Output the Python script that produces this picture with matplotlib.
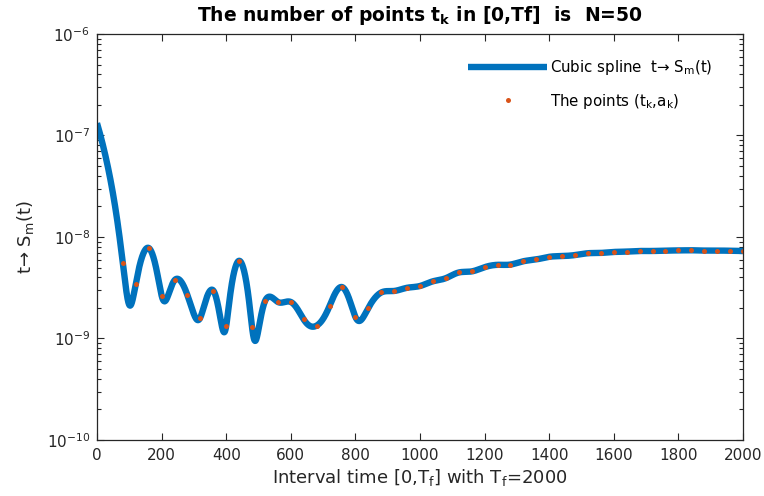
import numpy as np
import matplotlib
matplotlib.use("Agg")
import matplotlib.pyplot as plt

# ---- data ----
t_k = np.arange(0, 2001, 40)   # 51 knots, step 40 (N = 50 intervals)
a_k = np.array([
    132.4, 39.0, 5.51, 3.45, 7.80, 2.65, 3.75, 2.67, 1.61, 2.97,
    1.33, 5.83, 1.29, 2.33, 2.29, 2.29, 1.54, 1.34, 2.09, 3.20,
    1.63, 2.00, 2.84, 2.94, 3.16, 3.29, 3.66, 3.93, 4.47, 4.58,
    5.04, 5.32, 5.35, 5.77, 6.01, 6.38, 6.49, 6.64, 6.92, 6.97,
    7.12, 7.18, 7.28, 7.28, 7.35, 7.37, 7.40, 7.35, 7.35, 7.32,
    7.28]) * 1e-9
first_marked = 2   # the reference shows markers from t = 80 onward

title_txt = r"The number of points t$_{\mathbf{k}}$ in [0,Tf]  is  N=50"
xlabel_txt = r"Interval time [0,T$_{\mathrm{f}}$] with T$_{\mathrm{f}}$=2000"
ylabel_txt = r"t→ S$_{\mathrm{m}}$(t)"
legend_curve = r"Cubic spline  t→ S$_{\mathrm{m}}$(t)"
legend_pts = r"The points (t$_{\mathrm{k}}$,a$_{\mathrm{k}}$)"
x_ticks = [0, 200, 400, 600, 800, 1000, 1200, 1400, 1600, 1800, 2000]


def not_a_knot_spline(x, y, xq):
    x = np.asarray(x, float)
    y = np.asarray(y, float)
    n = len(x)
    h = np.diff(x)
    A = np.zeros((n, n))
    r = np.zeros(n)
    A[0, 0], A[0, 1], A[0, 2] = h[1], -(h[0] + h[1]), h[0]
    for i in range(1, n - 1):
        A[i, i - 1] = h[i - 1]
        A[i, i] = 2 * (h[i - 1] + h[i])
        A[i, i + 1] = h[i]
        r[i] = 6 * ((y[i + 1] - y[i]) / h[i] - (y[i] - y[i - 1]) / h[i - 1])
    A[-1, -3], A[-1, -2], A[-1, -1] = h[-1], -(h[-2] + h[-1]), h[-2]
    M = np.linalg.solve(A, r)
    idx = np.clip(np.searchsorted(x, xq) - 1, 0, n - 2)
    x0, x1 = x[idx], x[idx + 1]
    hh = x1 - x0
    return (M[idx] * (x1 - xq) ** 3 / (6 * hh) + M[idx + 1] * (xq - x0) ** 3 / (6 * hh)
            + (y[idx] / hh - M[idx] * hh / 6) * (x1 - xq)
            + (y[idx + 1] / hh - M[idx + 1] * hh / 6) * (xq - x0))


scale = 1e9
t_fine = np.linspace(t_k[0], t_k[-1], 4001)
s_fine = not_a_knot_spline(t_k, a_k * scale, t_fine) / scale

plt.rcParams['font.family'] = ['DejaVu Sans']
plt.rcParams['mathtext.fontset'] = 'dejavusans'

dark = '#262626'
fig = plt.figure(figsize=(7.64, 4.96), dpi=100)
ax = fig.add_axes([97 / 764, 1 - 440 / 496, 646 / 764, 406 / 496])

ax.semilogy(t_fine, s_fine, color='#0072BD', lw=4.6, solid_capstyle='butt',
            label=legend_curve)
ax.semilogy(t_k[first_marked:], a_k[first_marked:], 'o', color='#D95319',
            ms=3.6, mec='none', label=legend_pts)

ax.set_xlim(0, 2000)
ax.set_ylim(1e-10, 1e-6)
ax.set_xticks(x_ticks)
ax.set_yticks([1e-10, 1e-9, 1e-8, 1e-7, 1e-6])
ax.tick_params(which='both', direction='in', top=True, right=True, colors=dark,
               labelsize=11, width=0.8)
ax.tick_params(which='major', length=5)
ax.tick_params(which='minor', length=3)
ax.tick_params(axis='x', which='minor', bottom=False, top=False)
ax.tick_params(axis='x', pad=6)
ax.tick_params(axis='y', pad=5)
for s in ax.spines.values():
    s.set_color(dark)
    s.set_linewidth(0.9)

ax.set_title(title_txt, fontsize=13.5, fontweight='bold', color='black', pad=9)
ax.set_xlabel(xlabel_txt, fontsize=13, color=dark, labelpad=3)
ax.set_ylabel(ylabel_txt, fontsize=13, color=dark, labelpad=8)

leg = ax.legend(loc='upper left', bbox_to_anchor=(0.574, 0.94), frameon=False,
                fontsize=10.8, handlelength=5.3, handletextpad=0.15,
                labelspacing=0.95, borderpad=0, borderaxespad=0, numpoints=1,
                markerscale=1.0)
for txt in leg.get_texts():
    txt.set_color('black')

fig.savefig('out.png', dpi=100)
